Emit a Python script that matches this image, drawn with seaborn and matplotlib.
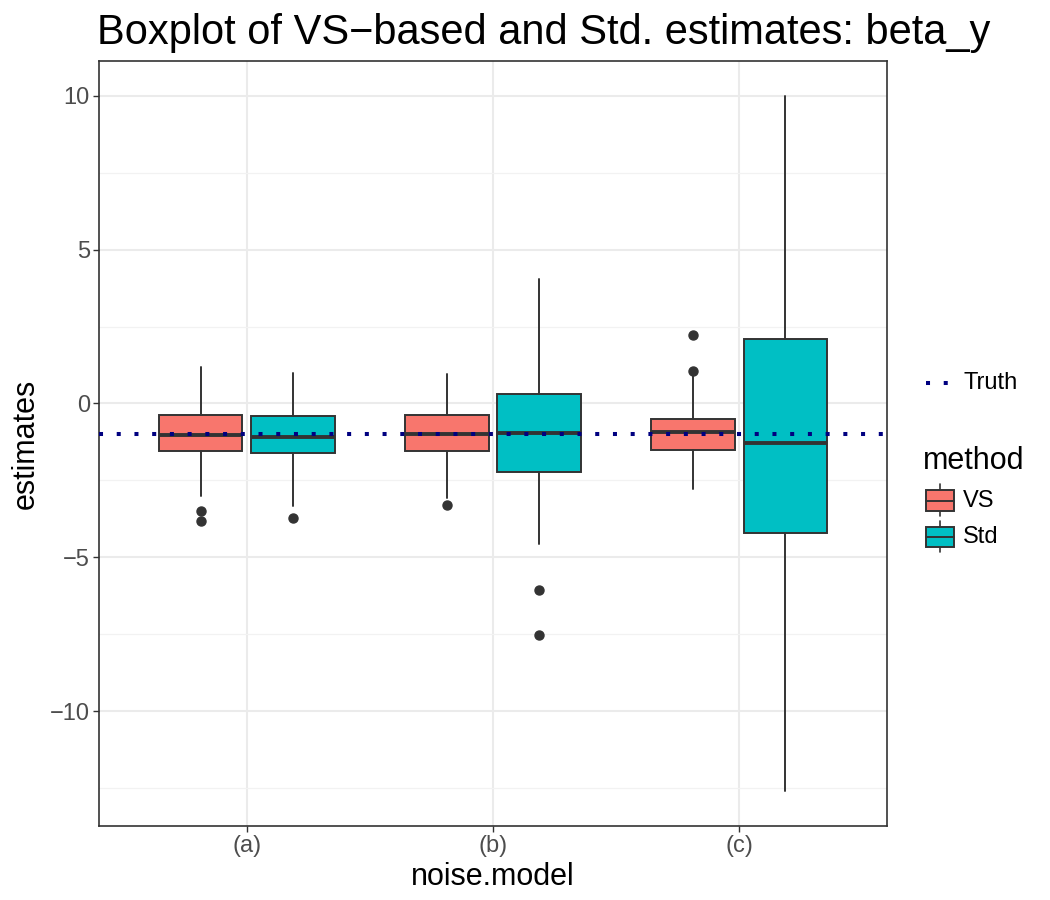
import matplotlib
matplotlib.use("Agg")
import matplotlib.pyplot as plt
import seaborn as sns
import numpy as np
from matplotlib.patches import Rectangle
from matplotlib.lines import Line2D

# ---------------- data ----------------
categories = ["(a)", "(b)", "(c)"]
methods = ["VS", "Std"]
truth = -1.0

vs_q1 = [-1.53, -1.53, -1.51]
vs_med = [-1.04, -0.98, -0.94]
vs_q3 = [-0.39, -0.36, -0.49]
vs_whislo = [-3.00, -3.07, -2.78]
vs_whishi = [1.20, 0.97, 1.00]
vs_fliers = [[-3.49, -3.81], [-3.29], [1.07, 2.22]]

std_q1 = [-1.61, -2.21, -4.22]
std_med = [-1.10, -0.97, -1.29]
std_q3 = [-0.41, 0.32, 2.08]
std_whislo = [-3.32, -4.58, -12.60]
std_whishi = [1.00, 4.06, 10.00]
std_fliers = [[-3.71], [-6.06, -7.52], []]

yticks = [-10, -5, 0, 5, 10]
yminor = [-12.5, -7.5, -2.5, 2.5, 7.5]

colors = {"VS": "#F8766D", "Std": "#00BFC4"}

# ---------------- style ----------------
sns.set_theme(style="whitegrid")
plt.rcParams["font.family"] = ["Liberation Sans", "DejaVu Sans"]

W, H = 1050, 900
fig = plt.figure(figsize=(W / 100, H / 100), dpi=100)
ax = fig.add_axes([99 / W, 1 - 826 / H, (887 - 99) / W, (826 - 61) / H])
ax.set_facecolor("white")

edge = "#333333"
dodge = 0.1875
bw = 0.34


def stats_for(q1, med, q3, lo, hi, fl):
    out = []
    for i in range(len(q1)):
        out.append(dict(q1=q1[i], med=med[i], q3=q3[i], whislo=lo[i],
                        whishi=hi[i], fliers=np.array(fl[i]), label=""))
    return out


groups = {
    "VS": stats_for(vs_q1, vs_med, vs_q3, vs_whislo, vs_whishi, vs_fliers),
    "Std": stats_for(std_q1, std_med, std_q3, std_whislo, std_whishi, std_fliers),
}
base = np.arange(len(categories))
for j, m in enumerate(methods):
    pos = base + (-dodge if j == 0 else dodge)
    ax.bxp(groups[m], positions=pos, widths=bw, patch_artist=True,
           showcaps=False, manage_ticks=False,
           boxprops=dict(facecolor=colors[m], edgecolor=edge, linewidth=1.4),
           medianprops=dict(color=edge, linewidth=2.8, solid_capstyle="butt"),
           whiskerprops=dict(color=edge, linewidth=1.4),
           flierprops=dict(marker="o", markerfacecolor=edge, markeredgecolor=edge,
                           markersize=6.5, linestyle="none"),
           zorder=3)

ax.axhline(truth, color="#000080", linewidth=2.9, linestyle=(0, (1, 3.4)),
           dash_capstyle="butt", zorder=5)

ax.set_xlim(-0.6, 2.6)
ax.set_ylim(-13.73, 11.13)
ax.set_xticks(base)
ax.set_xticklabels(categories)
ax.set_yticks(yticks)
ax.set_yticklabels([str(t).replace("-", "\u2212") for t in yticks])
ax.set_yticks(yminor, minor=True)

ax.grid(True, which="major", color="#EBEBEB", linewidth=1.5)
ax.grid(True, which="minor", axis="y", color="#F2F2F2", linewidth=0.9)
ax.grid(False, which="minor", axis="x")
ax.set_axisbelow(True)
for s in ax.spines.values():
    s.set_color(edge)
    s.set_linewidth(1.2)

ax.tick_params(axis="both", which="major", length=4, width=1.0, color=edge,
               labelsize=17, labelcolor="#4D4D4D", pad=2.5, left=True, bottom=True)
ax.tick_params(axis="both", which="minor", length=0)

ax.set_xlabel("noise.model", fontsize=22, color="black")
ax.set_ylabel("estimates", fontsize=22, color="black")
ax.xaxis.set_label_coords(0.5, -(862 - 826) / (826 - 61))
ax.yaxis.set_label_coords(-(99 - 41) / 788, 0.5)
fig.text(97 / W, 1 - 44 / H, "Boxplot of VS\u2212based and Std. estimates: beta_y",
         fontsize=30, ha="left", va="baseline", color="black")

# ---------------- legend (overlay in pixel coordinates) ----------------
lax = fig.add_axes([0, 0, 1, 1], facecolor="none")
lax.set_xlim(0, W)
lax.set_ylim(H, 0)
lax.axis("off")

lax.add_line(Line2D([926, 955], [383, 383], color="#000080", linewidth=2.9,
                    linestyle=(0, (1, 3.4)), dash_capstyle="butt"))
lax.text(963, 383, "Truth", fontsize=17, va="center", ha="left", color="black")

lax.text(923, 461, "method", fontsize=22, va="center", ha="left", color="black")
for m, (yc, top, bot) in zip(methods, [(501, 490, 511), (537, 527, 547)]):
    lax.add_line(Line2D([940, 940], [top - 6, bot + 5], color=edge, linewidth=1.2))
    lax.add_patch(Rectangle((926, top), 28, bot - top, facecolor=colors[m],
                            edgecolor=edge, linewidth=1.4, zorder=3))
    lax.add_line(Line2D([926, 954], [yc, yc], color=edge, linewidth=1.4, zorder=4))
    lax.text(963, yc, m, fontsize=17, va="center", ha="left", color="black")

fig.savefig("out.png", dpi=100)
